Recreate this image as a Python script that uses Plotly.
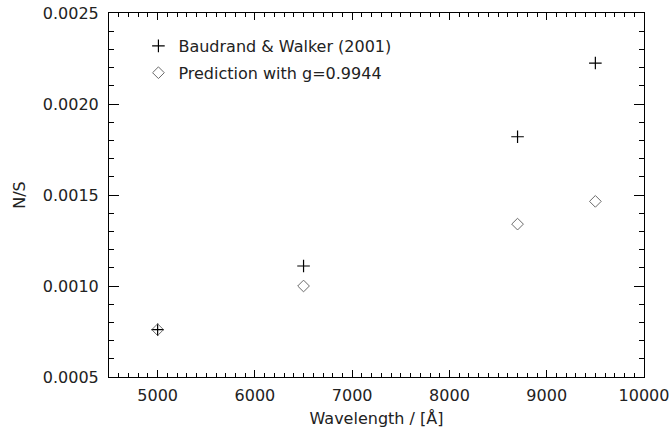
import plotly.graph_objects as go

wavelength = [5000, 6500, 8700, 9500]
baudrand_ns = [0.00076, 0.00111, 0.00182, 0.002225]
prediction_ns = [0.00076, 0.00100, 0.00134, 0.001465]

x_range = [4500, 10000]
y_range = [0.0005, 0.0025]

FONT = "DejaVu Sans"

x_minor_ticks = [v for v in range(4500, 10001, 100) if v % 1000 != 0]

fig = go.Figure()
fig.add_trace(go.Scatter(
    x=wavelength, y=baudrand_ns, mode="markers",
    name="Baudrand & Walker (2001)",
    marker=dict(symbol="cross-thin", size=9, line=dict(color="black", width=1.2), color="black"),
    legendgroup="a",
))
fig.add_trace(go.Scatter(
    x=wavelength, y=prediction_ns, mode="markers",
    name="Prediction with g=0.9944",
    marker=dict(symbol="diamond-open", size=9, color="#6a6a6a", line=dict(color="#6a6a6a", width=1)),
    legendgroup="b",
))

axis_common = dict(
    showline=True, linecolor="black", linewidth=1, mirror="allticks",
    ticks="inside", tickcolor="black", tickwidth=1,
    showgrid=False, zeroline=False, automargin=False,
    tickfont=dict(family=FONT, size=16, color="#222"),
    title_font=dict(family=FONT, size=16, color="#222"),
)

fig.update_xaxes(
    range=x_range, tickmode="linear", tick0=5000, dtick=1000, tickformat="d", ticklen=7,
    minor=dict(tickmode="array", tickvals=x_minor_ticks, ticks="inside", ticklen=4,
               tickcolor="black", tickwidth=1, showgrid=False),
    title_text="Wavelength / [Å]", title_standoff=8, ticklabelstandoff=4,
    **axis_common,
)
fig.update_yaxes(
    range=y_range, tickmode="linear", tick0=0.0005, dtick=0.0005, tickformat=".4f", ticklen=10,
    minor=dict(tickmode="linear", tick0=0.0005, dtick=0.0001, ticks="inside", ticklen=5,
               tickcolor="black", tickwidth=1, showgrid=False),
    title_text="N/S", title_standoff=13, ticklabelstandoff=6,
    **axis_common,
)

fig.update_layout(
    width=671, height=433,
    margin=dict(l=109, r=27, t=13, b=56),
    paper_bgcolor="white", plot_bgcolor="white",
    font=dict(family=FONT, size=16, color="#222"),
    legend=dict(
        x=0.055, y=0.956, xanchor="left", yanchor="top",
        bgcolor="rgba(0,0,0,0)", borderwidth=0,
        font=dict(family=FONT, size=16, color="#222"),
        traceorder="grouped", tracegroupgap=3,
    ),
    showlegend=True,
)

fig.write_html("out.html")
